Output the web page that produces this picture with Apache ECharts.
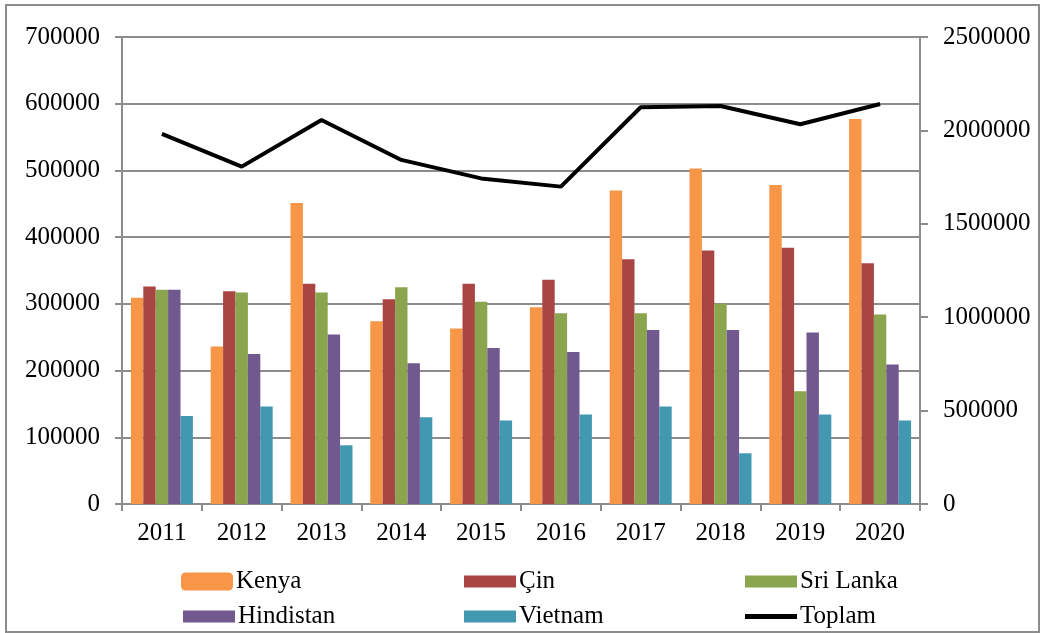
<!DOCTYPE html>
<html>
<head>
<meta charset="utf-8">
<script src="https://cdn.jsdelivr.net/npm/echarts@6/dist/echarts.min.js"></script>
<style>
  html, body { margin: 0; padding: 0; background: #fff; }
  #frame { position: absolute; left: 5px; top: 4px; width: 1031px; height: 625px; border: 2px solid #8c8c8c; }
  #chart { position: absolute; left: 0; top: 0; width: 1041px; height: 633px; }
</style>
</head>
<body>
<div id="frame"></div>
<div id="chart"></div>
<script>
const years = ['2011', '2012', '2013', '2014', '2015', '2016', '2017', '2018', '2019', '2020'];
const kenya = [309000, 236000, 451000, 274000, 263000, 295000, 470000, 503000, 478000, 577000];
const cin = [326000, 319000, 330000, 307000, 330000, 336000, 367000, 380000, 384000, 361000];
const sriLanka = [321000, 317000, 317000, 325000, 303000, 286000, 286000, 300000, 169000, 284000];
const hindistan = [321000, 225000, 254000, 211000, 234000, 228000, 261000, 261000, 257000, 209000];
const vietnam = [132000, 146000, 88000, 130000, 125000, 134000, 146000, 76000, 134000, 125000];
const toplam = [1981000, 1806000, 2056000, 1842000, 1743000, 1699000, 2124000, 2131000, 2033000, 2141000];

const chart = echarts.init(document.getElementById('chart'));
const font = 'Liberation Serif, Times New Roman, serif';
const gray = '#8c8c8c';

function bar(name, data, color) {
    return {
        name: name,
        type: 'bar',
        data: data,
        barWidth: 12.4,
        barGap: '0%',
        itemStyle: { color: color }
    };
}

function legendAt(name, left, top, icon, h) {
    return {
        data: [name],
        left: left,
        top: top,
        icon: icon,
        itemWidth: 52,
        itemHeight: h,
        itemGap: 4,
        textStyle: { fontFamily: font, fontSize: 25, color: '#000', padding: [0, 0, 0, -2] }
    };
}

const plain = v => String(v);

chart.setOption({
    animation: false,
    textStyle: { fontFamily: font },
    grid: { left: 122, right: 121, top: 37, bottom: 129 },
    legend: [
        legendAt('Kenya', 176, 564, 'roundRect', 18),
        legendAt('Çin', 459, 564, 'rect', 12),
        legendAt('Sri Lanka', 740, 564, 'rect', 12),
        legendAt('Hindistan', 178, 599, 'rect', 12),
        legendAt('Vietnam', 459, 599, 'rect', 12),
        legendAt('Toplam', 740, 599, 'rect', 5)
    ],
    xAxis: {
        type: 'category',
        data: years,
        axisLine: { lineStyle: { color: gray, width: 2 } },
        axisTick: { show: true, length: 7, lineStyle: { color: gray, width: 2 } },
        axisLabel: { fontFamily: font, fontSize: 25, color: '#000', margin: 17 }
    },
    yAxis: [
        {
            type: 'value',
            min: 0,
            max: 700000,
            interval: 100000,
            axisLine: { show: true, lineStyle: { color: gray, width: 2 } },
            axisTick: { show: true, length: 7, lineStyle: { color: gray, width: 2 } },
            axisLabel: { fontFamily: font, fontSize: 25, color: '#000', margin: 22, formatter: plain },
            splitLine: { lineStyle: { color: gray, width: 2 } }
        },
        {
            type: 'value',
            min: 0,
            max: 2500000,
            interval: 500000,
            position: 'right',
            axisLine: { show: true, lineStyle: { color: gray, width: 2 } },
            axisTick: { show: true, length: 8, lineStyle: { color: gray, width: 2 } },
            axisLabel: { fontFamily: font, fontSize: 25, color: '#000', margin: 23, formatter: plain },
            splitLine: { show: false }
        }
    ],
    series: [
        bar('Kenya', kenya, '#f79646'),
        bar('Çin', cin, '#a94643'),
        bar('Sri Lanka', sriLanka, '#8ba54e'),
        bar('Hindistan', hindistan, '#71588f'),
        bar('Vietnam', vietnam, '#4298b0'),
        {
            name: 'Toplam',
            type: 'line',
            yAxisIndex: 1,
            data: toplam,
            symbol: 'none',
            itemStyle: { color: '#000' },
            lineStyle: { color: '#000', width: 4 }
        }
    ]
});
</script>
</body>
</html>
